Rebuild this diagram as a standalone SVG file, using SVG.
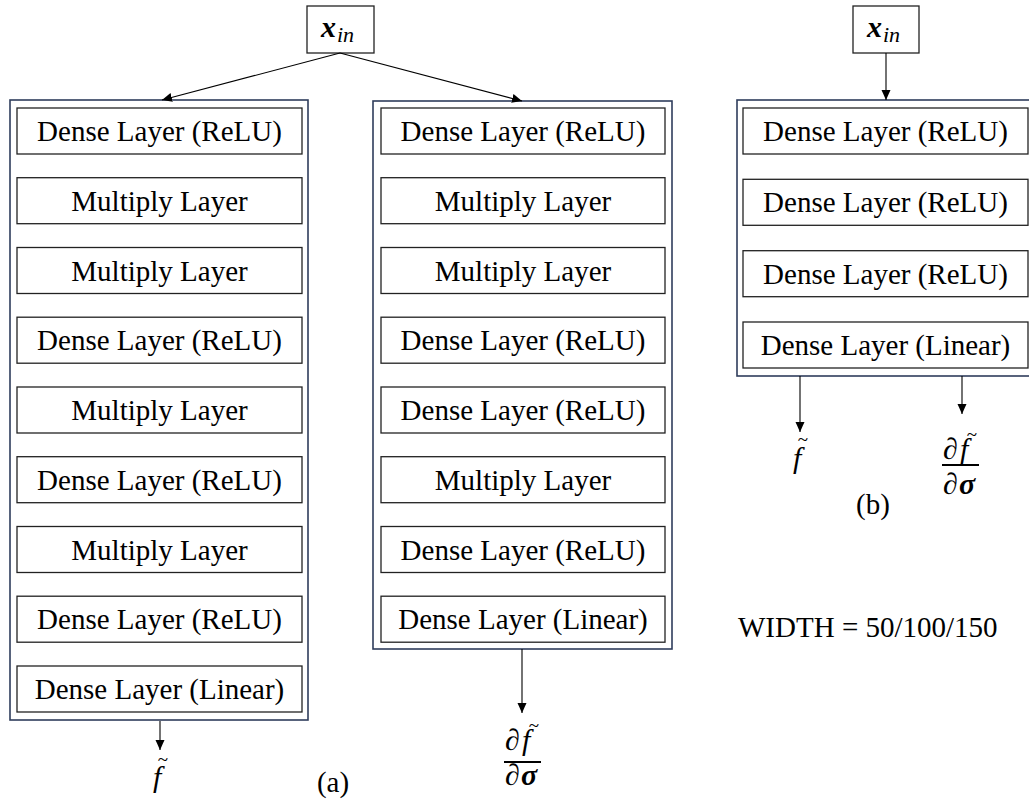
<svg xmlns="http://www.w3.org/2000/svg" width="1029" height="801" viewBox="0 0 1029 801">
<style>
.cont{fill:#fff;stroke:#2f3d5c;stroke-width:1.6}
.box{fill:#fff;stroke:#222;stroke-width:1.3}
.lbl{font-family:"Liberation Serif",serif;font-size:29px;fill:#000;text-anchor:middle}
.math{font-family:"Liberation Serif",serif;fill:#000;font-style:italic}
.til{font-family:"Liberation Serif",serif;fill:#000;font-size:19px;text-anchor:middle}
.conn{stroke:#000;stroke-width:1.1;fill:none;marker-end:url(#ah)}
</style>
<defs>
<marker id="ah" viewBox="0 0 10 10" refX="10" refY="5" markerWidth="10" markerHeight="10" markerUnits="userSpaceOnUse" orient="auto">
<path d="M0,0.5 L10,5 L0,9.5 Z" fill="#000"/>
</marker>
</defs>
<rect width="1029" height="801" fill="#fff"/>

<g id="xin-a">
<rect class="box" x="307" y="6" width="67" height="47"/>
<text class="math" x="321" y="37" font-size="30" font-weight="bold">x</text>
<text class="math" x="337" y="42" font-size="22">in</text>
</g>
<g id="xin-b">
<rect class="box" x="853" y="6" width="66" height="47"/>
<text class="math" x="867" y="37" font-size="30" font-weight="bold">x</text>
<text class="math" x="883" y="42" font-size="22">in</text>
</g>

<g id="net-a1">
<rect class="cont" x="10" y="100" width="298" height="620"/>
<g id="a1-l1"><rect class="box" x="17" y="108" width="285" height="46"/><text class="lbl" x="159.5" y="141">Dense Layer (ReLU)</text></g>
<g id="a1-l2"><rect class="box" x="17" y="177.7" width="285" height="46"/><text class="lbl" x="159.5" y="210.7">Multiply Layer</text></g>
<g id="a1-l3"><rect class="box" x="17" y="247.5" width="285" height="46"/><text class="lbl" x="159.5" y="280.5">Multiply Layer</text></g>
<g id="a1-l4"><rect class="box" x="17" y="317.2" width="285" height="46"/><text class="lbl" x="159.5" y="350.2">Dense Layer (ReLU)</text></g>
<g id="a1-l5"><rect class="box" x="17" y="387" width="285" height="46"/><text class="lbl" x="159.5" y="420">Multiply Layer</text></g>
<g id="a1-l6"><rect class="box" x="17" y="456.7" width="285" height="46"/><text class="lbl" x="159.5" y="489.7">Dense Layer (ReLU)</text></g>
<g id="a1-l7"><rect class="box" x="17" y="526.5" width="285" height="46"/><text class="lbl" x="159.5" y="559.5">Multiply Layer</text></g>
<g id="a1-l8"><rect class="box" x="17" y="596.2" width="285" height="46"/><text class="lbl" x="159.5" y="629.2">Dense Layer (ReLU)</text></g>
<g id="a1-l9"><rect class="box" x="17" y="666" width="285" height="46"/><text class="lbl" x="159.5" y="699">Dense Layer (Linear)</text></g>
</g>

<g id="net-a2">
<rect class="cont" x="373" y="101" width="299" height="548"/>
<g id="a2-l1"><rect class="box" x="381" y="108" width="284" height="46"/><text class="lbl" x="523" y="141">Dense Layer (ReLU)</text></g>
<g id="a2-l2"><rect class="box" x="381" y="177.7" width="284" height="46"/><text class="lbl" x="523" y="210.7">Multiply Layer</text></g>
<g id="a2-l3"><rect class="box" x="381" y="247.5" width="284" height="46"/><text class="lbl" x="523" y="280.5">Multiply Layer</text></g>
<g id="a2-l4"><rect class="box" x="381" y="317.2" width="284" height="46"/><text class="lbl" x="523" y="350.2">Dense Layer (ReLU)</text></g>
<g id="a2-l5"><rect class="box" x="381" y="387" width="284" height="46"/><text class="lbl" x="523" y="420">Dense Layer (ReLU)</text></g>
<g id="a2-l6"><rect class="box" x="381" y="456.7" width="284" height="46"/><text class="lbl" x="523" y="489.7">Multiply Layer</text></g>
<g id="a2-l7"><rect class="box" x="381" y="526.5" width="284" height="46"/><text class="lbl" x="523" y="559.5">Dense Layer (ReLU)</text></g>
<g id="a2-l8"><rect class="box" x="381" y="596.2" width="284" height="46"/><text class="lbl" x="523" y="629.2">Dense Layer (Linear)</text></g>
</g>

<g id="net-b">
<rect class="cont" x="737" y="100" width="300" height="276"/>
<g id="b-l1"><rect class="box" x="743" y="108" width="285" height="46"/><text class="lbl" x="885.5" y="141">Dense Layer (ReLU)</text></g>
<g id="b-l2"><rect class="box" x="743" y="179.3" width="285" height="46"/><text class="lbl" x="885.5" y="212.3">Dense Layer (ReLU)</text></g>
<g id="b-l3"><rect class="box" x="743" y="250.7" width="285" height="46"/><text class="lbl" x="885.5" y="283.7">Dense Layer (ReLU)</text></g>
<g id="b-l4"><rect class="box" x="743" y="322" width="285" height="46"/><text class="lbl" x="885.5" y="355">Dense Layer (Linear)</text></g>
</g>

<g id="connectors">
<line class="conn" x1="340" y1="53" x2="162" y2="100"/>
<line class="conn" x1="340" y1="53" x2="522" y2="101"/>
<line class="conn" x1="886" y1="53" x2="886" y2="100"/>
<line class="conn" x1="160" y1="721" x2="160" y2="750"/>
<line class="conn" x1="522" y1="649" x2="522" y2="713"/>
<line class="conn" x1="800" y1="376" x2="800" y2="432"/>
<line class="conn" x1="962" y1="376" x2="962" y2="414"/>
</g>

<g id="out-a1">
<text class="math" x="153" y="787" font-size="30">f</text>
<text class="til" x="163" y="766">~</text>
</g>
<g id="out-a2">
<text class="math" x="505" y="750" font-size="30">∂</text><text class="math" x="522" y="750" font-size="30">f</text>
<text class="til" x="534" y="732">~</text>
<line x1="504" y1="762" x2="541" y2="762" stroke="#000" stroke-width="1.8"/>
<text class="math" x="505" y="785" font-size="30">∂</text><text class="math" x="521" y="785" font-size="30" font-weight="bold">σ</text>
</g>
<g id="out-b1">
<text class="math" x="793" y="468" font-size="30">f</text>
<text class="til" x="803" y="446">~</text>
</g>
<g id="out-b2">
<text class="math" x="943" y="459" font-size="30">∂</text><text class="math" x="960" y="459" font-size="30">f</text>
<text class="til" x="972" y="441">~</text>
<line x1="942" y1="465" x2="979" y2="465" stroke="#000" stroke-width="1.8"/>
<text class="math" x="943" y="494" font-size="30">∂</text><text class="math" x="959" y="494" font-size="30" font-weight="bold">σ</text>
</g>

<text class="lbl" x="333" y="792">(a)</text>
<text class="lbl" x="873" y="514" font-size="30">(b)</text>
<text class="lbl" x="738" y="637" font-size="30" text-anchor="start" style="text-anchor:start">WIDTH = 50/100/150</text>
</svg>
